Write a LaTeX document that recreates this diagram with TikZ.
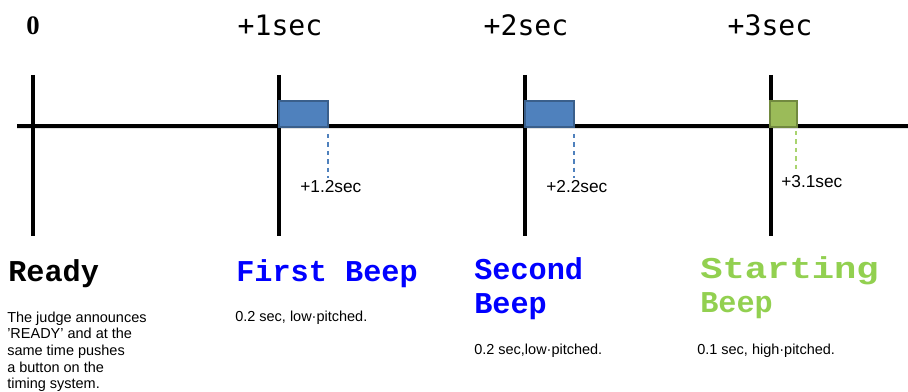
\documentclass[tikz,border=0pt]{standalone}
\usepackage{fontspec}
\usepackage{graphicx}
\setmainfont{Liberation Sans}
\newfontfamily\headfont{Liberation Mono}
\newfontfamily\timefont{DejaVu Sans Mono}
\newfontfamily\zerofont{Liberation Serif}
\definecolor{beepblue}{HTML}{4F81BD}
\definecolor{beepblueedge}{HTML}{3A5F8B}
\definecolor{beepgreen}{HTML}{9BBB59}
\definecolor{beepgreenedge}{HTML}{71893F}
\definecolor{startgreen}{HTML}{92D050}
\definecolor{dashgreen}{HTML}{A9D46F}
\tikzset{
  tick/.style={line width=2.2pt},
  timelabel/.style={anchor=base,inner sep=0pt,font=\timefont\fontsize{20}{24}\selectfont},
  headline/.style={anchor=base west,inner sep=0pt,align=left,font=\headfont\bfseries\fontsize{21.5}{24.5}\selectfont},
  desc/.style={anchor=base west,inner sep=0pt,align=left,font=\fontsize{10.3}{11.9}\selectfont},
  offset/.style={anchor=base west,inner sep=0pt,font=\fontsize{12.3}{14}\selectfont},
  bluebeep/.style={fill=beepblue,draw=beepblueedge,line width=1.8pt},
  greenbeep/.style={fill=beepgreen,draw=beepgreenedge,line width=1.8pt}
}
\begin{document}
\begin{tikzpicture}[x=0.025cm,y=-0.025cm]
    \useasboundingbox (0,0) rectangle (908,392);

    % time axis
    \coordinate (axisL) at (17,126);
    \coordinate (axisR) at (908,126);
    \draw[black!12,line width=2pt] ([yshift=-1.4pt]axisL) -- ([yshift=-1.4pt]axisR);
    \draw[tick] (axisL) -- (axisR);

    % ticks
    \foreach \name/\x in {t0/33,t1/279,t2/525,t3/771} {
      \coordinate (\name top) at (\x,75);
      \coordinate (\name bot) at (\x,236);
      \draw[tick] (\name top) -- (\name bot);
    }

    % tick labels
    \node[anchor=base,inner sep=0pt,font=\zerofont\bfseries\fontsize{19}{21}\selectfont] (lab0) at (33,35) {0};
    \node[timelabel] (lab1) at (280,36) {+1sec};
    \node[timelabel] (lab2) at (526,36) {+2sec};
    \node[timelabel] (lab3) at (770,36) {+3sec};

    % beeps
    \draw[bluebeep] (279,101) rectangle (328,127);
    \draw[bluebeep] (525,101) rectangle (574,127);
    \draw[greenbeep] (770,101) rectangle (797,127);

    % end of beeps
    \coordinate (end1) at (328,134);
    \node[offset] (off1) at (300,193) {+1.2sec};
    \draw[beepblue,dashed,line width=0.8pt] (end1) -- (328,178);
    \coordinate (end2) at (574,134);
    \node[offset] (off2) at (546,193) {+2.2sec};
    \draw[beepblue,dashed,line width=0.8pt] (end2) -- (574,178);
    \coordinate (end3) at (796,131);
    \node[offset] (off3) at (781,188) {+3.1sec};
    \draw[dashgreen,dashed,line width=0.8pt] (end3) -- (796,172);

    % Ready (base = last line)
    \node[headline] (ready) at (8,282) {Ready};
    \node[desc] (readytxt) at (7,389) {The judge announces\\'READY' and at the\\same time pushes\\a button on the\\timing system.};

    % First beep
    \node[headline,text=blue] (first) at (236,282) {First Beep};
    \node[desc] (firsttxt) at (235,322) {0.2 sec, low·pitched.};

    % Second beep
    \node[headline,text=blue] (second) at (474,314) {Second\\Beep};
    \node[desc] (secondtxt) at (474,355) {0.2 sec,low·pitched.};

    % Starting beep
    \node[headline,text=startgreen] (start) at (700,313) {\scalebox{1.23}[1]{Starting}\\Beep};
    \node[desc] (starttxt) at (697,355) {0.1 sec, high·pitched.};
  \end{tikzpicture}
\end{document}
